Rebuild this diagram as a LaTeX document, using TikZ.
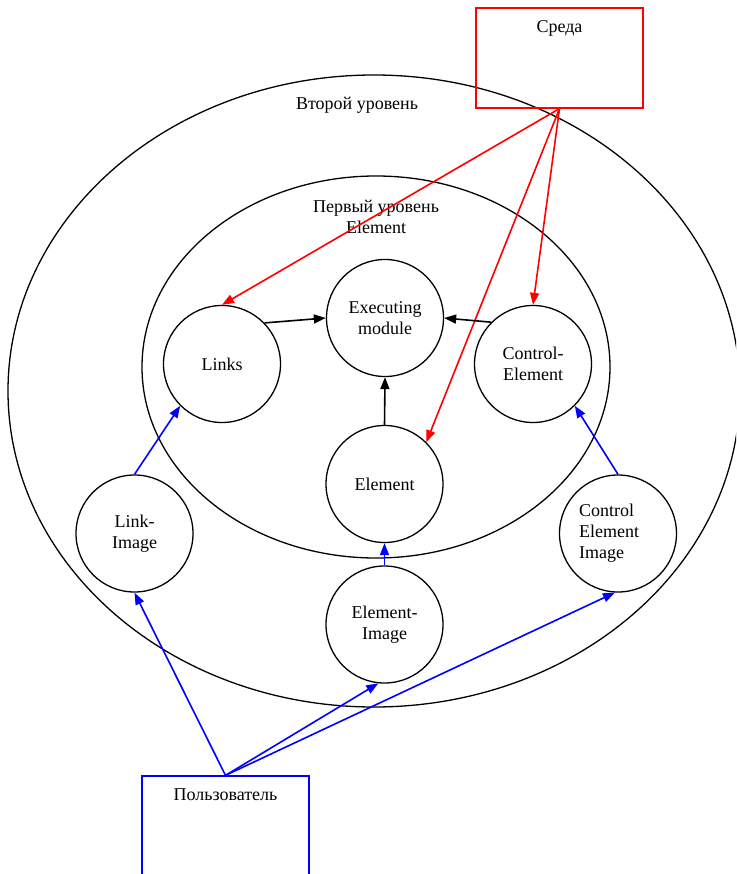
\documentclass[tikz,border=0pt]{standalone}
\usepackage{fontspec}
\setmainfont{Liberation Serif}
\usetikzlibrary{arrows.meta}
\begin{document}
\begin{tikzpicture}[x=1pt,y=-1pt,
  txt/.style={font=\fontsize{18}{21}\selectfont,align=center,inner sep=0pt},
  circ/.style={circle,draw=black,line width=1.3pt,minimum size=117pt,inner sep=0pt,txt},
  lvl/.style={draw=black,line width=1.3pt},
  redbox/.style={draw=red,line width=1.2pt,minimum width=167pt,minimum height=100pt,inner sep=0pt},
  bluebox/.style={draw=blue,line width=1.3pt,minimum width=167pt,minimum height=108pt,inner sep=0pt},
  tip/.style={-{Triangle[length=12pt,width=9pt]}},
  redarr/.style={tip,draw=red,fill=red,line width=1.6pt},
  bluearr/.style={tip,draw=blue,fill=blue,line width=1.6pt},
  blackarr/.style={tip,draw=black,fill=black,line width=1.6pt}]
\useasboundingbox (0,0) rectangle (736,874);
\clip (0,0) rectangle (736,874);
\fill[white] (0,0) rectangle (736,874);
% levels
\draw[lvl] (374,391) ellipse [x radius=366, y radius=316];
\draw[lvl] (376,367) ellipse [x radius=234, y radius=191];
\node[txt] (lvl2) at (357,105) {Второй уровень};
\node[txt] (lvl1) at (376,217) {Первый уровень\\Element};
% boxes
\node[redbox,label={[txt,anchor=north,yshift=-13pt]north:Среда}] (sreda) at (559.5,58) {};
\node[bluebox,label={[txt,anchor=north,yshift=-13pt]north:Пользователь}] (user) at (225.5,830) {};
% circles
\node[circ] (exec) at (385,318) {Executing\\module};
\node[circ] (links) at (222,364) {Links};
\node[circ] (ctrl) at (533,364) {Control-\\Element};
\node[circ] (elem) at (384.5,484) {Element};
\node[circ] (linkimg) at (134.5,533.5) {Link-\\Image};
\node[circ] (elemimg) at (384.5,624.5) {Element-\\Image};
\node[circ,align=left,text width=78pt] (ctrlimg) at (618,533.5) {Control\\Element\\Image};
% red arrows
\draw[redarr] (sreda.south) -- (links.north);
\draw[redarr] (sreda.south) -- (ctrl.north);
\draw[redarr] (sreda.south) -- (elem.45);
% black arrows
\draw[blackarr] (links.44) -- (exec.180);
\draw[blackarr] (ctrl.135) -- (exec.0);
\draw[blackarr] (elem.north) -- (exec.south);
% blue arrows
\draw[bluearr] (linkimg.north) -- (links.225);
\draw[bluearr] (elemimg.north) -- (elem.south);
\draw[bluearr] (ctrlimg.north) -- (ctrl.-45);
\draw[bluearr] (user.north) -- (linkimg.south);
\draw[bluearr] (user.north) -- (elemimg.264);
\draw[bluearr] (user.north) -- (ctrlimg.267);
\end{tikzpicture}
\end{document}
